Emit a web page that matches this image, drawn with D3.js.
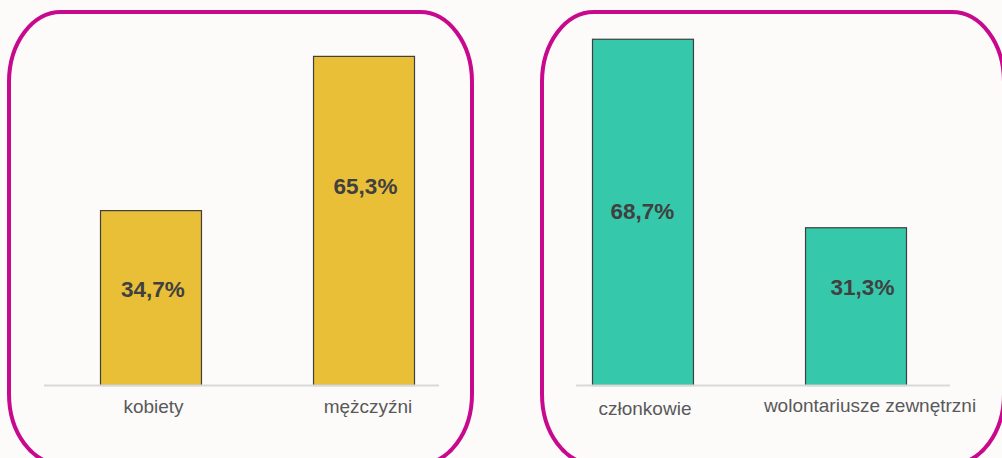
<!DOCTYPE html>
<html>
<head>
<meta charset="utf-8">
<script src="https://cdn.jsdelivr.net/npm/d3@7"></script>
<style>
  html, body { margin: 0; padding: 0; background: #fcfbfa; }
  svg { display: block; }
  .cat { font-family: "Liberation Sans", Arial, sans-serif; font-size: 19px; fill: #595959; }
  .val { font-family: "Liberation Sans", Arial, sans-serif; font-size: 22.5px; font-weight: bold; fill: #404040; }
</style>
</head>
<body>
<div class="container"></div>
<script>
const WIDTH = 1002,
      HEIGHT = 458;

// data
const genderCategories = ['kobiety', 'mężczyźni'];
const genderValues = [34.7, 65.3];
const memberCategories = ['członkowie', 'wolontariusze zewnętrzni'];
const memberValues = [68.7, 31.3];

var pl = d3.formatLocale({decimal: ',', thousands: ' ', grouping: [3], currency: ['', ' zł']});
var fmt = function(v) { return pl.format('.1f')(v) + '%'; };

// layout of the two panels (pixels)
var panels = [
  {cats: genderCategories, vals: genderValues, color: '#e8bf37',
   box: [9, 12, 463, 452], bars: [100, 414], axis: [44, 439],
   valDx: [2.5, 2], valY: [297, 194], catDx: [3, 4.5], catY: [413, 413]},
  {cats: memberCategories, vals: memberValues, color: '#35c8aa',
   box: [542, 12, 462, 452], bars: [592, 906], axis: [576, 950],
   valDx: [0, 7], valY: [219, 295], catDx: [2.5, 14.5], catY: [415, 412]}
];

var svg = d3.select('.container').append('svg')
    .attr('width', WIDTH).attr('height', HEIGHT);

var y = d3.scaleLinear().domain([0, 70]).range([385, 32.2]);

panels.forEach(function(p) {
  var g = svg.append('g');

  g.append('rect')
    .attr('x', p.box[0]).attr('y', p.box[1])
    .attr('width', p.box[2]).attr('height', p.box[3])
    .attr('rx', 52).attr('ry', 70)
    .attr('fill', 'none').attr('stroke', '#c8098d').attr('stroke-width', 4);

  var x = d3.scaleBand().domain(p.cats).range(p.bars).paddingInner(0.526).paddingOuter(0);

  g.selectAll('rect.bar').data(p.vals).join('rect')
    .attr('class', 'bar')
    .attr('x', function(d, i) { return x(p.cats[i]) + 0.5; })
    .attr('y', function(d) { return y(d) + 0.5; })
    .attr('width', x.bandwidth())
    .attr('height', function(d) { return y(0) - y(d); })
    .attr('fill', p.color).attr('stroke', '#3f3f3f').attr('stroke-width', 1.2);

  g.append('line')
    .attr('x1', p.axis[0]).attr('x2', p.axis[1])
    .attr('y1', y(0) + 0.5).attr('y2', y(0) + 0.5)
    .attr('stroke', '#d9d9d9').attr('stroke-width', 2);

  g.selectAll('text.val').data(p.vals).join('text')
    .attr('class', 'val')
    .attr('text-anchor', 'middle')
    .attr('x', function(d, i) { return x(p.cats[i]) + x.bandwidth() / 2 + p.valDx[i]; })
    .attr('y', function(d, i) { return p.valY[i]; })
    .text(fmt);

  g.selectAll('text.cat').data(p.cats).join('text')
    .attr('class', 'cat')
    .attr('text-anchor', 'middle')
    .attr('x', function(d, i) { return x(d) + x.bandwidth() / 2 + p.catDx[i]; })
    .attr('y', function(d, i) { return p.catY[i]; })
    .text(function(d) { return d; });
});
</script>
</body>
</html>
